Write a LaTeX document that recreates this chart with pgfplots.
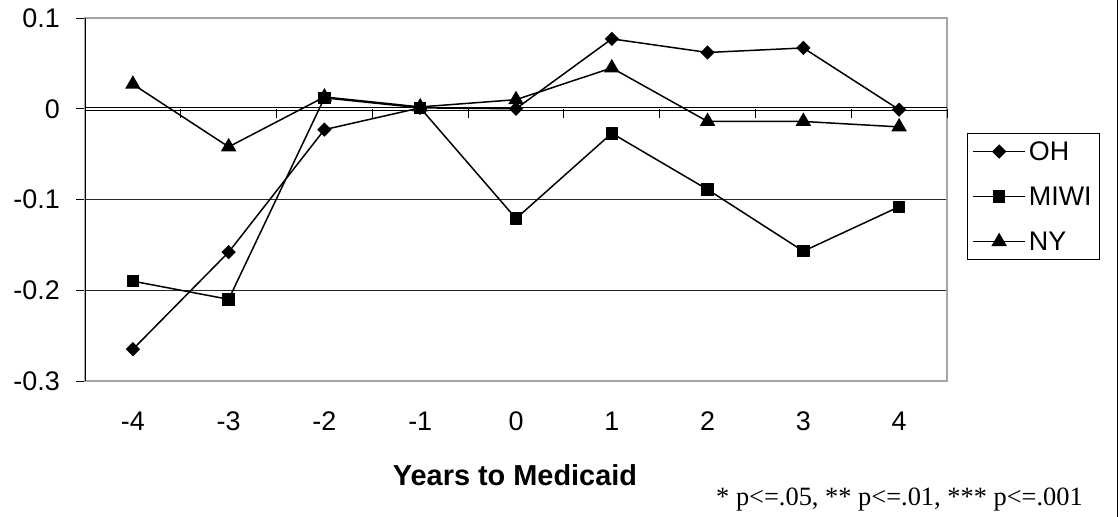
\documentclass[border=0pt]{standalone}
\usepackage{pgfplots}
\pgfplotsset{compat=1.18}
\usepackage{fontspec}
\setmainfont{Liberation Sans}
\newfontfamily\timesfont{Liberation Serif}
\begin{document}
\begin{tikzpicture}
\path[use as bounding box] (0,0) rectangle (1118bp,517bp);
\begin{axis}[
  at={(85bp,136bp)}, anchor=south west,
  scale only axis, width=862bp, height=363bp,
  xmin=-0.5, xmax=8.5, ymin=-0.3, ymax=0.1,
  axis line style={draw=none},
  xtick={0,...,8}, xticklabels={-4,-3,-2,-1,0,1,2,3,4},
  ytick={-0.3,-0.2,-0.1,0,0.1}, yticklabels={-0.3,-0.2,-0.1,0,0.1},
  ytick pos=left,
  x tick style={draw=none},
  y tick style={black, line width=0.8bp},
  tick align=outside, major tick length=9bp,
  ticklabel style={font=\fontsize{27}{32}\selectfont},
  xticklabel style={anchor=base, yshift=-41bp},
  yticklabel style={anchor=east, inner sep=0pt, xshift=-16bp},
  clip=false,
  legend style={at={(1.0232,0.6832)}, anchor=north west, draw=black, line width=0.8bp,
    font=\fontsize{27}{32}\selectfont, inner sep=5bp, row sep=19bp,
    nodes={inner sep=3bp}, cells={anchor=west}},
  legend image code/.code={\draw[mark repeat=2,mark phase=2,#1] plot coordinates {(0bp,0bp) (26bp,0bp) (52bp,0bp)};},
  every axis plot/.append style={black, line width=1.5bp},
]
\draw[line width=0.9bp, black!85] (axis cs:-0.5,-0.1) -- (axis cs:8.5,-0.1);
\draw[line width=0.9bp, black!85] (axis cs:-0.5,-0.2) -- (axis cs:8.5,-0.2);
\draw[gray!70, line width=1.2bp] (rel axis cs:0,0) rectangle (rel axis cs:1,1);
\draw[black, line width=1bp] (rel axis cs:0,0) -- (rel axis cs:0,1);
\draw[line width=0.9bp] ([yshift=0.8bp]axis cs:-0.5,0) -- ([yshift=0.8bp]axis cs:8.5,0);
\draw[line width=0.9bp] ([yshift=-1.8bp]axis cs:-0.5,0) -- ([yshift=-1.8bp]axis cs:8.5,0);
\pgfplotsinvokeforeach{0.5,1.5,...,8.5}{\draw[line width=0.8bp] (axis cs:#1,0) -- ([yshift=-9bp]axis cs:#1,0);}
\addplot[mark=square*, mark size=4.3bp, mark options={solid, fill=black, rotate=45}] coordinates {
(0,-0.265) (1,-0.158) (2,-0.023) (3,0.001) (4,0.000) (5,0.077) (6,0.062) (7,0.067) (8,-0.001)};
\addlegendentry{OH}
\addplot[mark=square*, mark size=5.5bp, mark options={solid, fill=black}] coordinates {
(0,-0.190) (1,-0.210) (2,0.012) (3,0.001) (4,-0.121) (5,-0.027) (6,-0.089) (7,-0.157) (8,-0.108)};
\addlegendentry{MIWI}
\addplot[mark=triangle*, mark size=7.5bp, mark options={solid, fill=black}] coordinates {
(0,0.027) (1,-0.042) (2,0.013) (3,0.002) (4,0.010) (5,0.045) (6,-0.014) (7,-0.014) (8,-0.020)};
\addlegendentry{NY}
\end{axis}
\node[anchor=base, font=\bfseries\fontsize{29}{34}\selectfont] at (515bp,32bp) {Years to Medicaid};
\node[anchor=base west, inner sep=0pt, font=\timesfont\fontsize{26.5}{30}\selectfont] at (716bp,12bp) {* p<=.05, ** p<=.01, *** p<=.001};
\draw[line width=1.3bp] (1117.3bp,0) -- (1117.3bp,517bp);
\end{tikzpicture}
\end{document}
